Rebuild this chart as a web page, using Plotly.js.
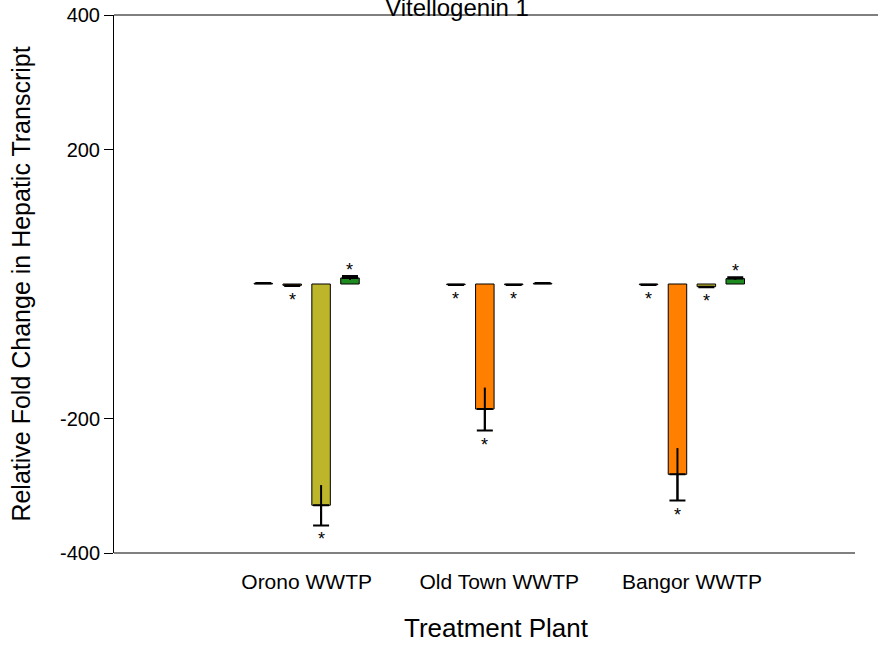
<!DOCTYPE html>
<html>
<head>
<meta charset="utf-8">
<script src="https://cdn.plot.ly/plotly-3.0.1.min.js"></script>
<style>html,body{margin:0;padding:0;background:#fff;}#chart{width:878px;height:646px;}</style>
</head>
<body>
<div id="chart"></div>
<script>
// ---- data ----
const categories = ['Orono WWTP', 'Old Town WWTP', 'Bangor WWTP'];
const seriesNames = ['Series 1', 'Series 2', 'Series 3', 'Series 4'];
const series1 = [1, -1, -1];
const series2 = [-2, -186, -283];
const series3 = [-329, -1, -4];
const series4 = [9, 1, 8];
const error1 = [0.5, 0.5, 0.5];
const error2 = [1, 32, 39];
const error3 = [30, 0.5, 1];
const error4 = [3, 0.5, 2];
const signif1 = [false, true, true];
const signif2 = [true, true, true];
const signif3 = [true, true, true];
const signif4 = [true, false, true];
const yTickVals = [-400, -200, 200, 400];
const chartTitle = 'Vitellogenin 1';
const xTitle = 'Treatment Plant';
const yTitle = 'Relative Fold Change in Hepatic Transcript';

// ---- styling ----
const colors = ['#606060', '#FF8000', '#BDB52A', '#1F8A1F'];
const bargap = 0.4, bargroupgap = 0.36;
const margin = {l: 114, r: 0, t: 15, b: 93};
const W = 878, H = 646;
const xRange = [-1.0, 2.966];
const axisEndPx = 855; // bottom axis line stops short of the right edge
const font = 'Liberation Sans, Arial, sans-serif';

const values = [series1, series2, series3, series4];
const errors = [error1, error2, error3, error4];
const signif = [signif1, signif2, signif3, signif4];

const traces = [];
values.forEach((vals, s) => {
  const errs = errors[s];
  traces.push({
    type: 'bar', x: categories, y: vals, name: seriesNames[s],
    offsetgroup: String(s),
    marker: {color: colors[s], line: {color: '#000', width: 1}},
    error_y: {
      type: 'data', symmetric: false,
      array: vals.map((v, i) => v >= 0 ? errs[i] : 0),
      arrayminus: vals.map((v, i) => v < 0 ? errs[i] : 0),
      color: '#000', thickness: 2, width: 8
    },
    hoverinfo: 'x+y'
  });
  traces.push({
    type: 'bar', x: categories, y: vals, name: seriesNames[s] + ' error',
    offsetgroup: String(s), showlegend: false,
    marker: {color: 'rgba(0,0,0,0)', line: {width: 0}},
    error_y: {type: 'data', array: errs, color: '#000', thickness: 2, width: 0},
    hoverinfo: 'skip'
  });
});

const plotW = W - margin.l - margin.r;
const pxPerUnit = plotW / (xRange[1] - xRange[0]);
const slotPx = (1 - bargap) / values.length * pxPerUnit;
const annotations = [];
values.forEach((vals, s) => {
  vals.forEach((v, i) => {
    if (!signif[s][i]) return;
    const neg = v < 0;
    annotations.push({
      x: i, y: neg ? v - errors[s][i] : v + errors[s][i],
      xref: 'x', yref: 'y', text: '*', showarrow: false,
      xshift: (s - (values.length - 1) / 2) * slotPx,
      yshift: neg ? -14 : 6,
      yanchor: 'middle',
      font: {family: font, size: 18, color: '#000'}
    });
  });
});

const layout = {
  width: W, height: H, margin: margin,
  paper_bgcolor: '#fff', plot_bgcolor: '#fff',
  showlegend: false,
  barmode: 'group', bargap: bargap, bargroupgap: bargroupgap,
  font: {family: font, color: '#000'},
  title: {text: chartTitle, font: {family: font, size: 24, color: '#000'},
          x: 0.449, xref: 'paper', xanchor: 'center', y: 1.004, yref: 'container', yanchor: 'middle'},
  xaxis: {
    type: 'category', range: xRange,
    showline: false,
    showgrid: false, zeroline: false, ticks: '', ticklabelstandoff: 14,
    tickfont: {family: font, size: 21, color: '#000'},
    title: {text: xTitle, font: {family: font, size: 26, color: '#000'}, standoff: 26}
  },
  yaxis: {
    range: [-400, 400], tickvals: yTickVals, ticktext: yTickVals.map(v => String(v)),
    showline: true, linecolor: '#000', linewidth: 1,
    showgrid: false, zeroline: false,
    ticks: 'outside', ticklen: 9, tickcolor: '#000',
    tickfont: {family: font, size: 20, color: '#000'},
    title: {text: yTitle, font: {family: font, size: 25, color: '#000'}, standoff: 22}
  },
  shapes: [
    {type: 'line', xref: 'paper', yref: 'paper', x0: 0, x1: 1, y0: 1, y1: 1,
     line: {color: '#000', width: 1}},
    {type: 'line', xref: 'paper', yref: 'paper', x0: 0, x1: (axisEndPx - margin.l) / plotW, y0: 0, y1: 0,
     line: {color: '#000', width: 1}}
  ],
  annotations: annotations
};

Plotly.newPlot('chart', traces, layout, {staticPlot: true});
</script>
</body>
</html>
